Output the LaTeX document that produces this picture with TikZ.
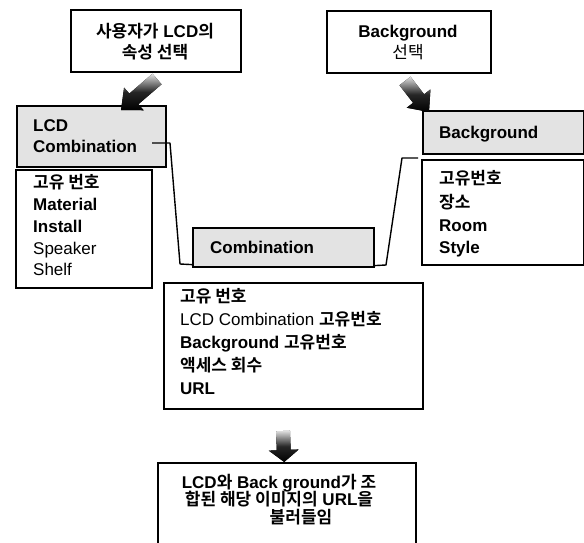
\documentclass[tikz,border=0pt]{standalone}
\usepackage{fontspec}
\setmainfont{Liberation Sans}
\newfontfamily\kr[BoldFont={Noto Sans CJK KR Bold}]{Noto Sans CJK KR}
\usetikzlibrary{calc}
\newcommand\K[1]{{\kr #1}}
% fat shaded arrow: tail, tip, shaft half width, head half width, head length
\newcommand\fatarrow[5]{%
  \coordinate (hb) at ($(#2)!#5!(#1)$);
  \fill[arrowshade] ($(#1)!#3!90:(#2)$) -- ($(hb)!#3!-90:(#1)$) -- ($(hb)!#4!-90:(#1)$)
    -- (#2) -- ($(hb)!#4!90:(#1)$) -- ($(hb)!#3!90:(#1)$) -- ($(#1)!#3!-90:(#2)$) -- cycle;}
\begin{document}
\begin{tikzpicture}[x=1pt,y=-1pt,
  box/.style={draw,line width=1.6pt,anchor=north west,inner sep=0pt},
  hdr/.style={box,fill=gray!22},
  txt/.style={anchor=base west,inner sep=0pt,font=\fontsize{17}{20}\selectfont},
  ctxt/.style={txt,anchor=base},
  conn/.style={line width=1.4pt,line join=round},
  arrowshade/.style={top color=gray!25,bottom color=black,middle color=black!85}]
\clip (0,0) rectangle (584,543);
\fill[white] (0,0) rectangle (584,543);

% top boxes
\node[box,minimum width=170pt,minimum height=62pt] (top1) at (70,9) {};
\node[ctxt] (t1a) at (155,38) {\bfseries\K{사용자가} LCD\K{의}};
\node[ctxt] (t1b) at (155,59) {\bfseries\K{속성 선택}};

\node[box,minimum width=164pt,minimum height=62pt] (top2) at (326,10) {};
\node[ctxt] (t2a) at (408,38) {\bfseries Background};
\node[ctxt] (t2b) at (408,59) {\K{선택}};

% LCD Combination
\node[hdr,minimum width=149pt,minimum height=61pt] (lcdh) at (16,105) {};
\node[txt] (lcdh1) at (33,131) {\bfseries LCD};
\node[txt] (lcdh2) at (33,152) {\bfseries Combination};

\node[box,minimum width=136pt,minimum height=118pt] (lcdl) at (15,169) {};
\node[txt] (l1) at (33,188) {\bfseries\K{고유 번호}};
\node[txt] (l2) at (33,210) {\bfseries Material};
\node[txt] (l3) at (33,232) {\bfseries Install};
\node[txt] (l4) at (33,254) {Speaker};
\node[txt] (l5) at (33,275) {Shelf};

% Background
\node[hdr,minimum width=161pt,minimum height=43pt] (bgh) at (422,110) {};
\node[txt] (bgh1) at (439,139) {\bfseries Background};

\node[box,minimum width=162pt,minimum height=105pt] (bgl) at (421,159) {};
\node[txt] (b1) at (439,184) {\bfseries\K{고유번호}};
\node[txt] (b2) at (439,208) {\bfseries\K{장소}};
\node[txt] (b3) at (439,231) {\bfseries Room};
\node[txt] (b4) at (439,253) {\bfseries Style};

% Combination
\node[hdr,minimum width=181pt,minimum height=39pt] (combh) at (192,227) {};
\node[txt] (combh1) at (210,253) {\bfseries Combination};

\node[box,minimum width=259pt,minimum height=126pt] (combl) at (163,282) {};
\node[txt] (c1) at (180,302) {\bfseries\K{고유 번호}};
\node[txt] (c2) at (180,325) {LCD Combination \K{\bfseries 고유번호}};
\node[txt] (c3) at (180,348) {\bfseries Background \K{고유번호}};
\node[txt] (c4) at (180,371) {\bfseries\K{액세스 회수}};
\node[txt] (c5) at (180,394) {\bfseries URL};

% bottom box
\node[box,minimum width=258pt,minimum height=140pt] (bot) at (157,462) {};
\node[ctxt] (o1) at (279,488) {\bfseries LCD\K{와} Back ground\K{가 조}};
\node[ctxt] (o2) at (279,505) {\bfseries\K{합된 해당 이미지의} URL\K{을}};
\node[ctxt] (o3) at (301,523) {\bfseries\K{불러들임}};

% connectors
\coordinate (ls) at (152,143);
\draw[conn] (ls) -- (170,143) -- (180,264) -- ($(combh.south west)+(0,-3)$);
\draw[conn] ($(combh.south east)+(0,-2)$) -- (386,265) -- (402,158) -- ($(bgl.north west)+(-3,-1)$);

% fat arrows
\coordinate (a1t) at (157,79);
\coordinate (a1h) at (121,110);
\fatarrow{a1t}{a1h}{7pt}{15pt}{17pt}
\coordinate (a2t) at (405,81);
\coordinate (a2h) at (429,112);
\fatarrow{a2t}{a2h}{7pt}{15pt}{17pt}
\coordinate (a3t) at (283,431);
\coordinate (a3h) at ($(bot.north west)!0.49!(bot.north east)$);
\fatarrow{a3t}{a3h}{7pt}{15pt}{12pt}
\end{tikzpicture}
\end{document}
